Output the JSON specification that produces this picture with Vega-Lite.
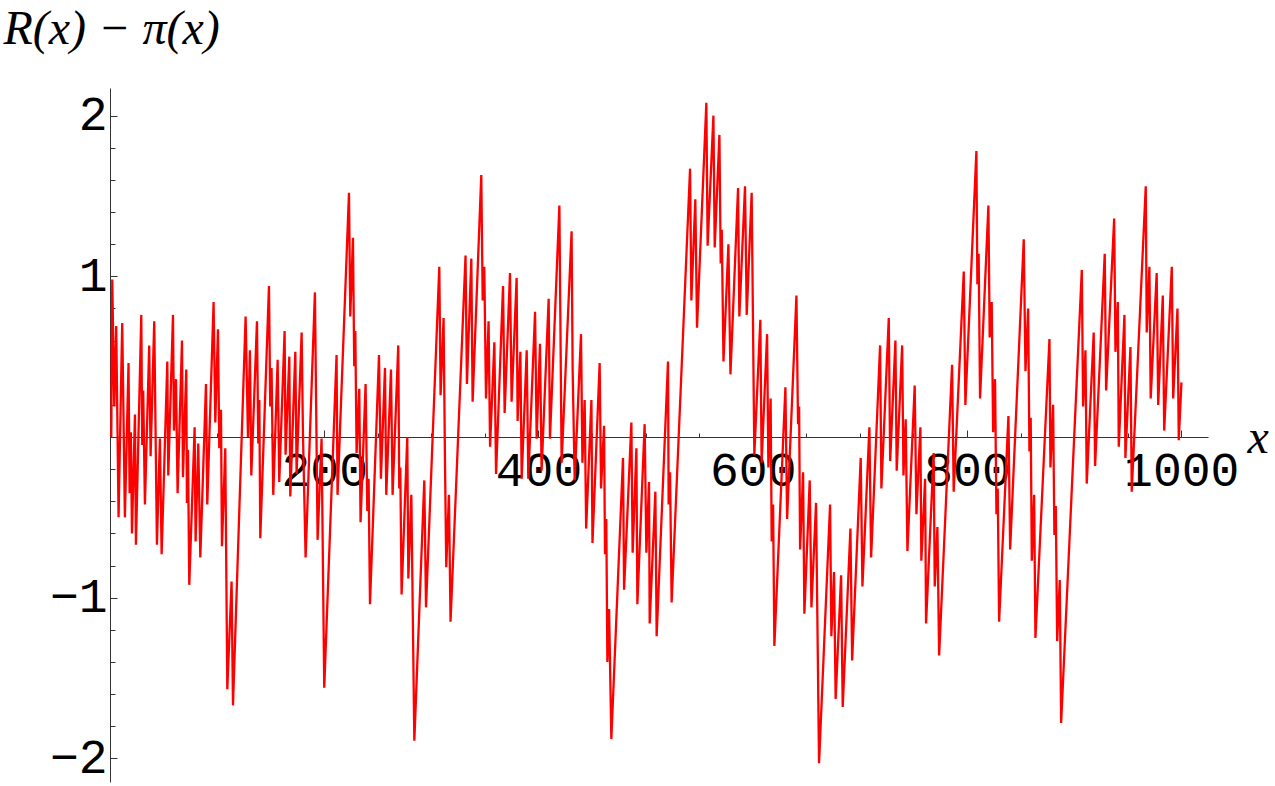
{
  "$schema": "https://vega.github.io/schema/vega-lite/v6.json",
  "width": 1098,
  "height": 694,
  "autosize": {"type": "none"},
  "padding": {"left": 110, "top": 88, "right": 67, "bottom": 4},
  "background": "white",
  "config": {"view": {"stroke": null}},
  "data": {"values": [
    {"x": 1.2, "v": 0.0}, {"x": 2.1, "v": 0.98}, {"x": 4.0, "v": 0.19}, {"x": 5.8, "v": 0.69}, {"x": 8.0, "v": -0.5},
    {"x": 11.4, "v": 0.71}, {"x": 13.9, "v": -0.5}, {"x": 17.3, "v": 0.46}, {"x": 18.3, "v": -0.35}, {"x": 19.5, "v": 0.03},
    {"x": 20.5, "v": -0.6}, {"x": 23.3, "v": 0.14}, {"x": 24.2, "v": -0.67}, {"x": 29.2, "v": 0.76}, {"x": 30.1, "v": -0.05},
    {"x": 31.0, "v": 0.29}, {"x": 32.6, "v": -0.42}, {"x": 36.6, "v": 0.57}, {"x": 37.9, "v": -0.12}, {"x": 41.3, "v": 0.72},
    {"x": 43.8, "v": -0.67}, {"x": 46.6, "v": -0.01}, {"x": 48.2, "v": -0.73}, {"x": 53.5, "v": 0.47}, {"x": 54.4, "v": -0.24},
    {"x": 58.8, "v": 0.76}, {"x": 59.7, "v": 0.04}, {"x": 61.6, "v": 0.36}, {"x": 63.1, "v": -0.35}, {"x": 67.2, "v": 0.6},
    {"x": 68.1, "v": -0.25}, {"x": 71.2, "v": 0.42}, {"x": 71.8, "v": -0.41}, {"x": 72.8, "v": -0.08}, {"x": 74.0, "v": -0.92},
    {"x": 79.0, "v": 0.06}, {"x": 79.9, "v": -0.65}, {"x": 82.4, "v": -0.04}, {"x": 84.3, "v": -0.75}, {"x": 89.6, "v": 0.33},
    {"x": 90.8, "v": -0.42}, {"x": 96.7, "v": 0.84}, {"x": 98.3, "v": 0.09}, {"x": 100.8, "v": 0.67}, {"x": 102.0, "v": -0.07},
    {"x": 103.6, "v": 0.17}, {"x": 104.5, "v": -0.68}, {"x": 107.6, "v": -0.07}, {"x": 109.5, "v": -1.57}, {"x": 113.5, "v": -0.9},
    {"x": 114.8, "v": -1.67}, {"x": 126.6, "v": 0.75}, {"x": 128.8, "v": 0.0}, {"x": 130.6, "v": 0.54}, {"x": 131.9, "v": -0.24},
    {"x": 137.2, "v": 0.72}, {"x": 138.4, "v": -0.04}, {"x": 139.4, "v": 0.23}, {"x": 140.3, "v": -0.63}, {"x": 148.4, "v": 0.94},
    {"x": 149.6, "v": 0.19}, {"x": 150.8, "v": 0.43}, {"x": 152.4, "v": -0.36}, {"x": 156.5, "v": 0.48}, {"x": 158.0, "v": -0.28},
    {"x": 163.0, "v": 0.66}, {"x": 163.9, "v": -0.11}, {"x": 167.4, "v": 0.5}, {"x": 168.3, "v": -0.37}, {"x": 173.0, "v": 0.53},
    {"x": 174.2, "v": -0.23}, {"x": 178.9, "v": 0.65}, {"x": 180.1, "v": 0.03}, {"x": 182.6, "v": -0.75}, {"x": 191.3, "v": 0.9},
    {"x": 193.8, "v": -0.64}, {"x": 197.5, "v": -0.01}, {"x": 200.0, "v": -1.56}, {"x": 211.5, "v": 0.51}, {"x": 212.4, "v": -0.36},
    {"x": 223.1, "v": 1.52}, {"x": 224.3, "v": 0.75}, {"x": 226.8, "v": 1.24}, {"x": 228.0, "v": 0.44}, {"x": 229.0, "v": 0.66},
    {"x": 230.2, "v": -0.1}, {"x": 232.7, "v": 0.3}, {"x": 233.9, "v": -0.53}, {"x": 238.6, "v": 0.33}, {"x": 240.2, "v": -0.46},
    {"x": 241.4, "v": -0.26}, {"x": 242.7, "v": -1.04}, {"x": 251.1, "v": 0.51}, {"x": 252.9, "v": -0.26}, {"x": 256.7, "v": 0.43},
    {"x": 257.9, "v": -0.36}, {"x": 262.3, "v": 0.42}, {"x": 263.8, "v": -0.36}, {"x": 269.1, "v": 0.57}, {"x": 270.0, "v": -0.32},
    {"x": 271.0, "v": -0.19}, {"x": 272.2, "v": -0.98}, {"x": 277.5, "v": 0.0}, {"x": 278.5, "v": -0.88}, {"x": 281.3, "v": -0.36},
    {"x": 284.1, "v": -1.89}, {"x": 293.4, "v": -0.27}, {"x": 295.0, "v": -1.06}, {"x": 307.4, "v": 1.06}, {"x": 308.6, "v": 0.26},
    {"x": 311.4, "v": 0.74}, {"x": 312.7, "v": -0.15}, {"x": 313.9, "v": -0.81}, {"x": 316.4, "v": -0.36}, {"x": 317.9, "v": -1.15},
    {"x": 331.9, "v": 1.13}, {"x": 333.2, "v": 0.33}, {"x": 337.3, "v": 1.11}, {"x": 338.5, "v": 0.22}, {"x": 346.6, "v": 1.63},
    {"x": 347.9, "v": 0.85}, {"x": 349.4, "v": 1.06}, {"x": 351.0, "v": 0.24}, {"x": 353.4, "v": 0.72}, {"x": 354.8, "v": -0.06},
    {"x": 358.8, "v": 0.59}, {"x": 360.4, "v": -0.23}, {"x": 366.9, "v": 0.94}, {"x": 368.4, "v": 0.15}, {"x": 373.4, "v": 1.02},
    {"x": 374.9, "v": 0.22}, {"x": 379.6, "v": 0.99}, {"x": 380.5, "v": 0.1}, {"x": 383.1, "v": 0.53}, {"x": 384.3, "v": -0.26},
    {"x": 389.0, "v": 0.54}, {"x": 390.5, "v": -0.26}, {"x": 396.8, "v": 0.78}, {"x": 398.3, "v": -0.01}, {"x": 401.4, "v": 0.58},
    {"x": 402.9, "v": -0.21}, {"x": 409.5, "v": 0.86}, {"x": 410.7, "v": -0.01}, {"x": 419.5, "v": 1.44}, {"x": 421.6, "v": -0.16},
    {"x": 430.9, "v": 1.28}, {"x": 431.9, "v": 0.41}, {"x": 433.8, "v": -0.27}, {"x": 439.7, "v": 0.64}, {"x": 441.0, "v": -0.16},
    {"x": 443.1, "v": 0.23}, {"x": 444.5, "v": -0.57}, {"x": 449.4, "v": 0.23}, {"x": 450.4, "v": -0.66}, {"x": 457.1, "v": 0.46},
    {"x": 458.4, "v": -0.32}, {"x": 461.2, "v": 0.07}, {"x": 462.1, "v": -0.73}, {"x": 463.3, "v": -0.51}, {"x": 464.3, "v": -1.4},
    {"x": 465.9, "v": -1.07}, {"x": 468.0, "v": -1.88}, {"x": 478.9, "v": -0.13}, {"x": 479.9, "v": -0.95}, {"x": 486.7, "v": 0.09},
    {"x": 487.9, "v": -0.72}, {"x": 491.4, "v": -0.07}, {"x": 492.3, "v": -1.04}, {"x": 499.1, "v": 0.08}, {"x": 500.7, "v": -0.72},
    {"x": 503.2, "v": -0.28}, {"x": 503.8, "v": -1.16}, {"x": 509.1, "v": -0.34}, {"x": 510.3, "v": -1.24}, {"x": 520.9, "v": 0.47},
    {"x": 521.5, "v": -0.42}, {"x": 522.8, "v": -0.22}, {"x": 524.3, "v": -1.03}, {"x": 541.5, "v": 1.67}, {"x": 542.7, "v": 0.85},
    {"x": 546.4, "v": 1.48}, {"x": 548.0, "v": 0.68}, {"x": 556.7, "v": 2.08}, {"x": 557.9, "v": 1.19}, {"x": 563.3, "v": 2.0},
    {"x": 564.5, "v": 1.18}, {"x": 568.9, "v": 1.88}, {"x": 570.1, "v": 1.08}, {"x": 571.1, "v": 1.29}, {"x": 572.7, "v": 0.47},
    {"x": 577.3, "v": 1.2}, {"x": 579.2, "v": 0.39}, {"x": 586.3, "v": 1.55}, {"x": 587.5, "v": 0.75}, {"x": 592.8, "v": 1.56},
    {"x": 594.4, "v": 0.76}, {"x": 599.0, "v": 1.52}, {"x": 601.5, "v": -0.11}, {"x": 607.1, "v": 0.73}, {"x": 608.3, "v": -0.16},
    {"x": 613.4, "v": 0.64}, {"x": 614.6, "v": -0.19}, {"x": 616.7, "v": 0.24}, {"x": 617.7, "v": -0.65}, {"x": 619.0, "v": -0.42},
    {"x": 620.2, "v": -1.3}, {"x": 630.5, "v": 0.31}, {"x": 632.1, "v": -0.51}, {"x": 640.8, "v": 0.88}, {"x": 642.3, "v": 0.08},
    {"x": 643.3, "v": 0.19}, {"x": 644.2, "v": -0.7}, {"x": 647.0, "v": -0.22}, {"x": 648.2, "v": -1.1}, {"x": 653.2, "v": -0.27},
    {"x": 654.8, "v": -1.06}, {"x": 659.1, "v": -0.41}, {"x": 661.9, "v": -2.03}, {"x": 672.2, "v": -0.42}, {"x": 673.4, "v": -1.24},
    {"x": 675.9, "v": -0.84}, {"x": 677.4, "v": -1.63}, {"x": 682.5, "v": -0.86}, {"x": 684.0, "v": -1.68}, {"x": 691.2, "v": -0.57},
    {"x": 692.8, "v": -1.39}, {"x": 700.8, "v": -0.13}, {"x": 702.4, "v": -0.93}, {"x": 708.9, "v": 0.06}, {"x": 710.5, "v": -0.75},
    {"x": 718.9, "v": 0.57}, {"x": 720.1, "v": -0.32}, {"x": 727.0, "v": 0.74}, {"x": 728.3, "v": -0.15}, {"x": 733.2, "v": 0.6},
    {"x": 734.4, "v": -0.21}, {"x": 739.5, "v": 0.57}, {"x": 740.7, "v": -0.24}, {"x": 742.8, "v": 0.11}, {"x": 744.4, "v": -0.71},
    {"x": 751.2, "v": 0.32}, {"x": 752.8, "v": -0.48}, {"x": 756.5, "v": 0.06}, {"x": 757.4, "v": -0.77}, {"x": 760.9, "v": -0.26},
    {"x": 761.8, "v": -1.16}, {"x": 768.9, "v": -0.1}, {"x": 769.9, "v": -0.93}, {"x": 772.4, "v": -0.56}, {"x": 774.0, "v": -1.36},
    {"x": 786.1, "v": 0.45}, {"x": 787.6, "v": -0.34}, {"x": 797.0, "v": 1.03}, {"x": 798.5, "v": 0.2}, {"x": 808.8, "v": 1.78},
    {"x": 809.7, "v": 0.95}, {"x": 810.9, "v": 1.14}, {"x": 812.2, "v": 0.24}, {"x": 820.0, "v": 1.44}, {"x": 821.2, "v": 0.62},
    {"x": 823.1, "v": 0.84}, {"x": 824.4, "v": 0.03}, {"x": 826.2, "v": 0.36}, {"x": 827.5, "v": -0.48}, {"x": 828.7, "v": -0.32},
    {"x": 830.0, "v": -1.15}, {"x": 838.7, "v": 0.13}, {"x": 840.3, "v": -0.7}, {"x": 853.0, "v": 1.23}, {"x": 854.6, "v": 0.41},
    {"x": 857.1, "v": 0.8}, {"x": 858.3, "v": -0.09}, {"x": 859.5, "v": 0.12}, {"x": 860.5, "v": -0.77}, {"x": 862.7, "v": -0.36},
    {"x": 863.9, "v": -1.25}, {"x": 877.0, "v": 0.61}, {"x": 877.9, "v": -0.19}, {"x": 880.4, "v": 0.2}, {"x": 881.6, "v": -0.61},
    {"x": 882.9, "v": -0.43}, {"x": 884.2, "v": -1.27}, {"x": 886.6, "v": -0.89}, {"x": 887.9, "v": -1.78}, {"x": 907.2, "v": 1.04},
    {"x": 908.4, "v": 0.19}, {"x": 910.6, "v": 0.54}, {"x": 911.8, "v": -0.29}, {"x": 918.3, "v": 0.65}, {"x": 919.6, "v": -0.18},
    {"x": 928.6, "v": 1.14}, {"x": 929.9, "v": 0.29}, {"x": 937.4, "v": 1.36}, {"x": 938.6, "v": 0.53}, {"x": 940.8, "v": 0.84},
    {"x": 941.7, "v": -0.06}, {"x": 947.0, "v": 0.76}, {"x": 947.9, "v": -0.13}, {"x": 952.6, "v": 0.56}, {"x": 953.8, "v": -0.34},
    {"x": 966.9, "v": 1.56}, {"x": 967.8, "v": 0.65}, {"x": 970.3, "v": 1.06}, {"x": 971.5, "v": 0.24}, {"x": 977.1, "v": 1.02},
    {"x": 978.5, "v": 0.2}, {"x": 982.8, "v": 0.88}, {"x": 984.1, "v": 0.04}, {"x": 991.2, "v": 1.06}, {"x": 992.5, "v": 0.24},
    {"x": 996.5, "v": 0.8}, {"x": 997.7, "v": -0.02}, {"x": 1000.2, "v": 0.34}
  ]},
  "mark": {"type": "line", "color": "#ff0000", "strokeWidth": 2.3, "strokeJoin": "miter", "strokeMiterLimit": 4},
  "encoding": {
    "x": {
      "field": "x", "type": "quantitative",
      "scale": {"domain": [0, 1025], "nice": false, "zero": false},
      "axis": {
        "orient": "bottom", "offset": -345, "grid": false,
        "values": [50, 100, 150, 200, 250, 300, 350, 400, 450, 500, 550, 600, 650, 700, 750, 800, 850, 900, 950, 1000],
        "format": "d",
        "labelExpr": "datum.value % 200 === 0 ? datum.label : ''",
        "labelFont": "Liberation Mono", "labelFontSize": 48, "labelColor": "#000000",
        "labelPadding": 17, "labelOverlap": false, "labelBound": false, "labelFlush": false,
        "tickSize": {"condition": {"test": "datum.value % 200 === 0", "value": -7}, "value": -4},
        "tickColor": "#333333", "tickWidth": 1,
        "domainColor": "#333333", "domainWidth": 1,
        "title": "x", "titleFont": "Liberation Serif", "titleFontStyle": "italic", "titleFontWeight": "normal",
        "titleFontSize": 48, "titleColor": "#000000", "titleAngle": 0,
        "titleX": 1137, "titleY": 15, "titleAlign": "left", "titleBaseline": "alphabetic"
      }
    },
    "y": {
      "field": "v", "type": "quantitative",
      "scale": {"domain": [-2.147, 2.172], "nice": false, "zero": false},
      "axis": {
        "orient": "left", "grid": false,
        "values": [-2, -1.8, -1.6, -1.4, -1.2, -1, -0.8, -0.6, -0.4, -0.2, 0.2, 0.4, 0.6, 0.8, 1, 1.2, 1.4, 1.6, 1.8, 2],
        "labelExpr": "abs(datum.value) === 1 || abs(datum.value) === 2 ? format(datum.value, 'd') : ''",
        "labelFont": "Liberation Mono", "labelFontSize": 48, "labelColor": "#000000",
        "labelPadding": 10, "labelOverlap": false, "labelBound": false, "labelFlush": false,
        "labelBaseline": "middle",
        "tickSize": {"condition": {"test": "abs(datum.value) === 1 || abs(datum.value) === 2", "value": -7}, "value": -5},
        "tickColor": "#333333", "tickWidth": 1,
        "domainColor": "#333333", "domainWidth": 1,
        "title": "R(x) − π(x)", "titleFont": "Liberation Serif", "titleFontStyle": "italic", "titleFontWeight": "normal",
        "titleFontSize": 48, "titleColor": "#000000", "titleAngle": 0,
        "titleX": -107, "titleY": -45, "titleAlign": "left", "titleBaseline": "alphabetic"
      }
    }
  }
}
